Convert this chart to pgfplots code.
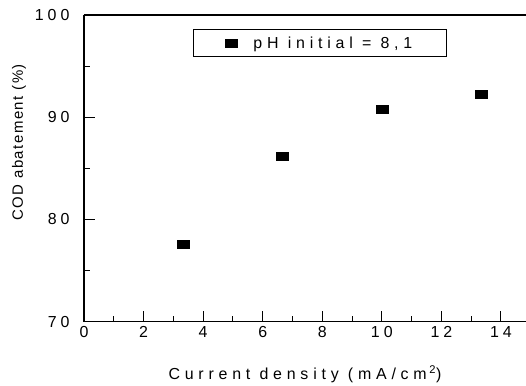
\documentclass[border=0pt]{standalone}
\usepackage{fontspec}
\usepackage{pgfplots}
\pgfplotsset{compat=1.18}
\setmainfont{Liberation Sans}
\newfontfamily\spaced[LetterSpace=30]{Liberation Sans}
\newfontfamily\spacedb[LetterSpace=25]{Liberation Sans}
\newfontfamily\spacedc[LetterSpace=10]{Liberation Sans}
\begin{document}
\begin{tikzpicture}
\begin{axis}[
  scale only axis,
  width=442bp, height=306.7bp,
  xmin=0, xmax=14.84, ymin=70, ymax=100,
  axis x line*=box, axis y line*=left,
  xtick pos=bottom,
  xtick={0,2,...,14}, minor xtick={1,3,...,13},
  ytick={70,80,90,100}, minor ytick={75,85,95},
  tick align=inside,
  major tick length=11bp, minor tick length=6bp,
  every tick/.style={black, line width=1pt},
  axis line style={line width=1.2pt},
  /pgf/number format/assume math mode=true,
  tick label style={font=\spacedb\fontsize{16}{16}\selectfont},
  yticklabel style={xshift=-11bp},
  xticklabel style={yshift=-1bp},
  xlabel={\spaced\fontsize{16}{16}\selectfont Current density (mA/cm\,\textsuperscript{2})},
  ylabel={\spacedc\fontsize{15}{15}\selectfont COD abatement (\%)},
  every axis x label/.style={at={(rel axis cs:0.5,0)}, anchor=north, yshift=-40bp},
  every axis y label/.style={at={(rel axis cs:0,0.5)}, rotate=90, anchor=center, yshift=65bp, xshift=26bp},
  legend style={at={(axis cs:7.92,97.26)}, anchor=center, draw=black, line width=0.8pt,
    font=\spaced\fontsize{16}{16}\selectfont, inner xsep=32bp, inner ysep=5bp},
  legend image code/.code={\path[#1] (0.3cm,0cm) node[draw=none]{} plot coordinates {(0.3cm,0cm)};},
  legend cell align=left,
]
\addplot[only marks, mark=square*, mark size=4bp, mark options={xscale=1.5, fill=black, draw=black}]
  coordinates {(3.33,77.6) (6.67,86.2) (10.0,90.8) (13.33,92.3)};
\addlegendentry{\hspace{14bp}pH initial = 8,1}
\end{axis}
\pgfresetboundingbox
\path ([xshift=-84bp,yshift=-64.3bp]current axis.south west) rectangle ([yshift=15bp]current axis.north east);
\end{tikzpicture}
\end{document}
